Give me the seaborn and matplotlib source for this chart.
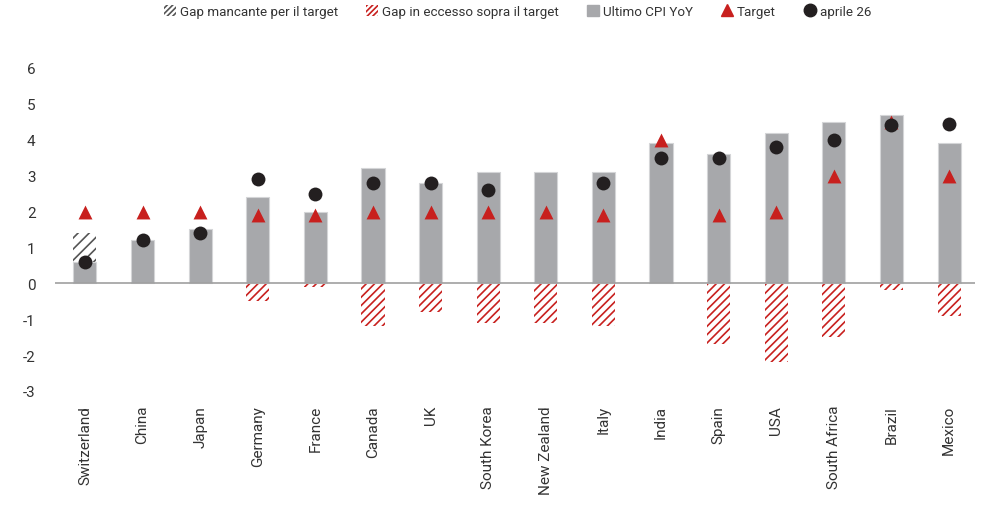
import numpy as np
import pandas as pd
import matplotlib
matplotlib.use("Agg")
import matplotlib.pyplot as plt
from matplotlib.patches import Patch
from matplotlib.lines import Line2D
import seaborn as sns

countries = ["Switzerland", "China", "Japan", "Germany", "France", "Canada", "UK",
             "South Korea", "New Zealand", "Italy", "India", "Spain", "USA",
             "South Africa", "Brazil", "Mexico"]
cpi_yoy = [0.6, 1.2, 1.5, 2.4, 2.0, 3.2, 2.8, 3.1, 3.1, 3.1, 3.9, 3.6, 4.2, 4.5, 4.7, 3.9]
target = [2.0, 2.0, 2.0, 1.9, 1.9, 2.0, 2.0, 2.0, 2.0, 1.9, 4.0, 1.9, 2.0, 3.0, 4.5, 3.0]
aprile_26 = [0.6, 1.2, 1.4, 2.9, 2.5, 2.8, 2.8, 2.6, np.nan, 2.8, 3.5, 3.5, 3.8, 4.0, 4.4, 4.45]

df = pd.DataFrame({"country": countries, "cpi": cpi_yoy, "target": target, "apr26": aprile_26})
diff = df["target"] - df["cpi"]
df["gap_below"] = diff.clip(lower=0)          # CPI short of target
df["gap_above"] = -(-diff).clip(lower=0)      # CPI above target, drawn downward

GREY = "#a7a8ab"
RED = "#c8201e"
DARK = "#231f20"
HATCH_GREY = "#555555"
TXT = "#333333"

sns.set_theme(style="white")
plt.rcParams["font.family"] = ["Roboto", "DejaVu Sans"]
plt.rcParams["axes.unicode_minus"] = False
plt.rcParams["hatch.linewidth"] = 1.2

fig = plt.figure(figsize=(9.86, 5.06), dpi=100)
ax = fig.add_axes([0.0558, 0.2253, 0.9330, 0.6385])

def hatched_bars(col, color, hatch):
    n_before = len(ax.patches)
    sns.barplot(data=df, x="country", y=col, order=countries, color="white",
                width=0.4, ax=ax, errorbar=None, zorder=1)
    for p in ax.patches[n_before:]:
        p.set_facecolor("white")
        p.set_edgecolor(color)
        p.set_hatch(hatch)
        p.set_linewidth(0)

hatched_bars("gap_below", HATCH_GREY, "///")
sns.barplot(data=df, x="country", y="cpi", order=countries, color=GREY,
            saturation=1, width=0.4, ax=ax, errorbar=None, zorder=2,
            edgecolor="#d4d5d7", linewidth=0.8)
hatched_bars("gap_above", RED, "////")

ax.axhline(0, color="#a0a0a0", lw=1.2, zorder=3)

sns.stripplot(data=df, x="country", y="target", order=countries, jitter=False,
              marker="^", size=10, color=RED, linewidth=0, ax=ax, zorder=4)
sns.stripplot(data=df, x="country", y="apr26", order=countries, jitter=False,
              marker="o", size=10, color=DARK, linewidth=0, ax=ax, zorder=5)

ax.set_xlim(-0.52, 15.45)
ax.set_ylim(-3, 6)
ax.set_yticks(range(-3, 7))
ax.set_xlabel("")
ax.set_ylabel("")
for s in ax.spines.values():
    s.set_visible(False)
ax.tick_params(axis="both", length=0, colors=TXT, labelsize=11)
ax.tick_params(axis="y", pad=14)
ax.tick_params(axis="x", pad=10)
plt.setp(ax.get_xticklabels(), rotation=90, ha="center", va="top")

handles = [
    Patch(facecolor="white", edgecolor=HATCH_GREY, hatch="//////", linewidth=0),
    Patch(facecolor="white", edgecolor=RED, hatch="//////", linewidth=0),
    Patch(facecolor=GREY, edgecolor=GREY),
    Line2D([], [], marker="^", color=RED, linestyle="none", markersize=9),
    Line2D([], [], marker="o", color=DARK, linestyle="none", markersize=9),
]
labels = ["Gap mancante per il target", "Gap in eccesso sopra il target",
          "Ultimo CPI YoY", "Target", "aprile 26"]
fig.legend(handles, labels, loc="center", bbox_to_anchor=(0.525, 0.976), ncol=5,
           frameon=False, fontsize=9.6, handlelength=0.9, handleheight=0.9,
           handletextpad=0.3, columnspacing=2.1, labelcolor=TXT)

fig.savefig("out.png", dpi=100)
